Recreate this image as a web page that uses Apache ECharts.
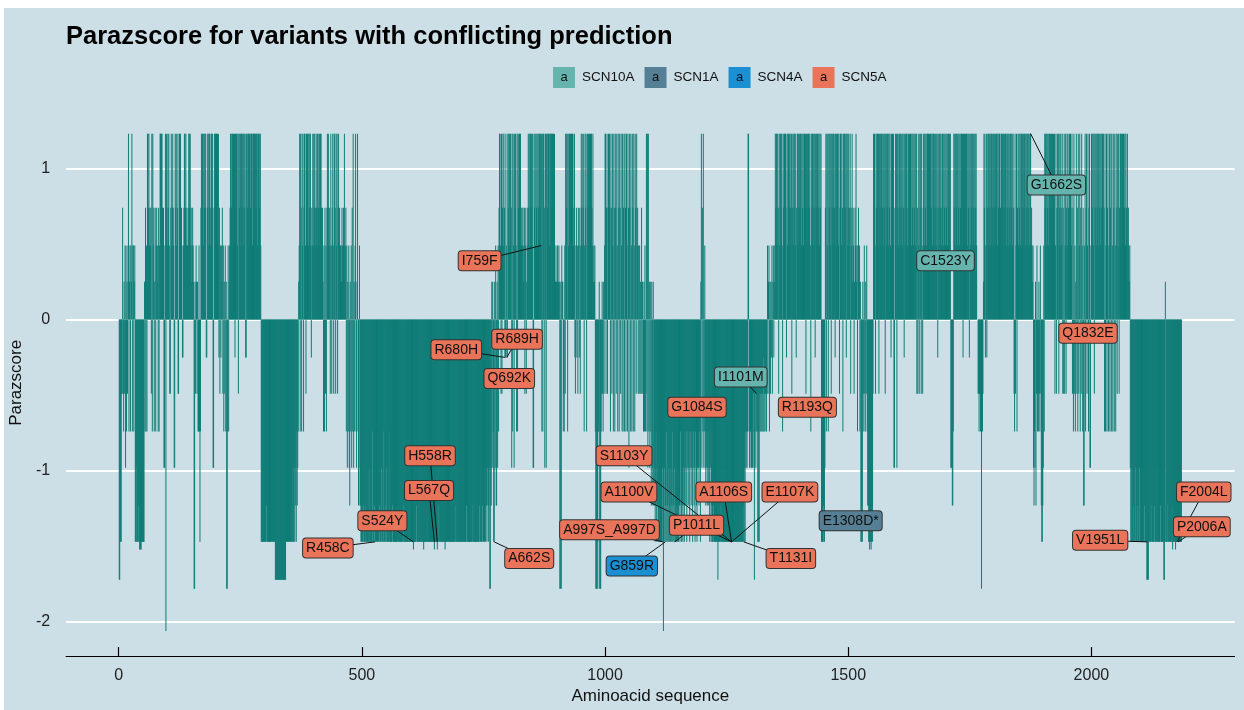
<!DOCTYPE html>
<html><head><meta charset="utf-8">
<script src="https://cdn.jsdelivr.net/npm/echarts@6/dist/echarts.min.js"></script>
<style>
html,body{margin:0;padding:0;background:#fff;}
#bg{position:absolute;left:4px;top:8px;right:0;bottom:0;background:#cddfe6;}
#chart{position:absolute;left:0;top:0;width:1244px;height:710px;}
</style></head>
<body><div id="bg"></div><div id="chart"></div>
<script>
// Parazscore per aminoacid position (positions 1..2185) in chunks of 100
const seg01=[-1.72,-1.72,-1.47,-1.47,-1.47,-0.49,-0.49,0.74,-0.49,-0.74,
0.25,-0.49,0.49,-0.98,0.49,-0.74,0.25,-0.49,0.49,1.23,
-0.74,0.25,0.49,-0.74,0.49,0.25,1.23,-0.74,0.49,0.49,
-0.74,0.25,0.49,-1.47,-1.47,-0.98,-1.47,-1.47,-1.47,-1.47,
-1.23,-1.47,-1.52,-1.52,-1.52,-1.52,-1.47,-1.47,-1.47,-1.47,
-1.47,-1.47,0.25,-0.74,0.74,-0.74,0.49,-0.74,1.23,1.23,
0.74,1.23,0.49,0.74,0.49,0.74,-0.49,1.23,-0.74,1.23,
0.49,0.74,-0.74,0.25,0.74,-0.74,0.49,0.74,0.25,0.49,
-0.74,0.74,-0.74,0.49,1.23,1.23,0.74,1.23,1.23,0.74,
0.49,0.74,-0.98,-0.98,0.49,1.23,-2.06,1.23,0.74,0.49];
const seg02=[1.23,0.74,1.23,0.49,-0.49,-0.49,0.74,1.23,0.49,0.74,
1.23,0.74,0.49,-0.98,-0.98,1.23,0.74,1.23,0.49,1.23,
0.74,-0.49,-0.49,1.23,1.23,0.74,1.23,0.49,0.74,0.49,
-0.25,-0.25,0.49,0.74,1.23,1.23,0.74,1.23,0.49,0.74,
0.49,0.49,0.74,1.23,1.23,0.74,1.23,0.49,0.74,0.25,
0.49,0.74,0.49,0.25,-1.78,-1.78,0.25,-0.49,0.49,0.25,
-0.49,0.25,-0.74,-0.74,0.49,-0.74,-1.47,-0.74,0.74,1.23,
0.74,1.23,1.23,0.49,1.23,0.74,1.23,1.23,0.74,-0.25,
-0.25,1.23,0.74,1.23,0.49,1.23,1.23,0.74,0.49,1.23,
1.23,0.74,1.23,-0.98,-0.98,0.74,1.23,0.49,1.23,1.23];
const seg03=[1.23,0.74,1.23,0.49,1.23,-0.25,0.74,-0.49,0.49,-0.25,
0.49,0.25,0.74,-0.49,0.49,-0.74,0.25,-0.49,0.49,-0.74,
0.25,-1.78,-1.78,-0.74,0.49,-0.74,0.25,0.49,0.74,1.23,
1.23,0.74,1.23,1.23,0.49,1.23,0.74,1.23,-0.25,1.23,
0.74,1.23,1.23,0.49,1.23,-0.49,1.23,0.74,1.23,1.23,
0.49,1.23,1.23,0.74,1.23,1.23,0.49,1.23,0.74,1.23,
-0.25,-0.25,1.23,1.23,0.74,1.23,1.23,0.49,1.23,1.23,
0.74,1.23,1.23,1.23,0.49,1.23,1.23,0.74,1.23,1.23,
1.23,0.74,1.23,1.23,0.49,1.23,1.23,1.23,0.74,1.23,
1.23,0.49,-1.47,-1.47,-1.47,-1.47,-1.47,-1.47,-1.47,-1.47];
const seg04=[-1.47,-1.47,-1.47,-1.23,-1.47,-1.47,-1.47,-1.47,-1.47,-1.47,
-1.47,-1.47,-1.47,-1.47,-1.23,-1.47,-1.47,-1.47,-1.47,-1.47,
-1.47,-1.72,-1.72,-1.72,-1.72,-1.72,-1.72,-1.72,-1.72,-1.72,
-1.72,-1.72,-1.72,-1.72,-1.72,-1.72,-1.72,-1.72,-1.72,-1.72,
-1.72,-1.72,-1.72,-1.47,-1.47,-1.47,-1.47,-1.23,-1.47,-1.47,
-1.47,-1.47,-1.47,-1.23,-1.47,-1.47,-1.47,-0.98,-1.47,-1.47,
-0.98,-1.47,-1.23,-0.98,-1.47,-0.74,-1.23,-0.98,-0.74,0.25,
0.49,1.23,-0.74,1.23,0.74,-0.74,1.23,0.49,1.23,-0.74,
0.74,1.23,1.23,0.49,-0.49,1.23,0.74,1.23,1.23,0.49,
1.23,0.74,1.23,1.23,0.49,-0.25,0.74,0.49,1.23,0.49];
const seg05=[1.23,0.74,1.23,0.49,0.74,1.23,0.74,0.49,1.23,1.23,
0.74,0.49,1.23,0.74,1.23,1.23,0.74,0.49,0.74,0.25,
-0.74,0.49,-0.74,0.74,-0.49,0.49,-0.74,0.74,1.23,0.74,
1.23,0.49,0.74,0.49,-0.49,1.23,0.49,-0.49,0.74,1.23,
0.49,-0.49,1.23,1.23,0.74,-0.49,1.23,0.49,1.23,-0.49,
0.74,1.23,0.49,0.74,0.25,0.49,0.49,0.25,0.74,0.49,
0.25,0.74,0.49,1.23,0.25,0.49,0.74,-0.74,0.49,-0.98,
0.25,-0.74,0.49,-0.98,-1.23,0.25,-0.74,0.49,-0.98,0.74,
-0.74,1.23,-0.98,0.25,-0.74,0.49,1.23,-0.74,-0.98,0.25,
1.23,-0.74,-1.23,-0.98,0.49,-1.23,-1.23,-1.47,-1.47,-1.47];
const seg06=[-1.47,-1.47,-1.23,-1.47,-1.47,-1.47,-1.47,-1.23,-1.47,-1.47,
-1.47,-1.47,-1.47,-1.47,-0.98,-1.47,-1.47,-1.47,-1.47,-1.47,
-1.47,-0.74,-1.47,-1.47,-1.47,-1.23,-1.47,-1.47,-0.98,-1.47,
-1.47,-1.47,-0.74,-1.47,-1.47,-1.23,-1.47,-1.47,-1.47,-0.98,
-1.47,-1.47,-1.47,-0.74,-1.47,-1.47,-1.47,-1.23,-1.47,-1.47,
-0.98,-1.47,-1.47,-1.47,-1.47,-0.74,-1.47,-1.47,-1.47,-1.47,
-1.47,-1.47,-1.23,-1.47,-1.47,-1.47,-1.47,-1.47,-1.47,-1.47,
-1.47,-1.47,-1.47,-1.23,-1.47,-1.47,-1.47,-1.47,-1.47,-1.47,
-1.47,-1.47,-1.47,-1.47,-1.47,-1.23,-1.47,-1.47,-1.47,-1.47,
-1.47,-1.47,-1.47,-1.47,-1.47,-1.47,-1.23,-1.47,-1.47,-1.47];
const seg07=[-1.47,-1.47,-1.47,-1.47,-1.47,-1.52,-1.47,-1.47,-1.47,-1.47,
-1.47,-1.23,-1.47,-1.47,-1.47,-1.47,-1.47,-1.47,-1.47,-1.47,
-1.47,-1.47,-1.47,-1.47,-1.47,-1.47,-1.52,-1.47,-1.47,-1.47,
-1.47,-1.47,-1.47,-1.23,-1.47,-1.47,-1.47,-1.47,-1.47,-1.47,
-1.47,-1.47,-1.47,-1.47,-1.47,-1.47,-1.47,-1.47,-1.52,-1.47,
-1.47,-1.47,-1.47,-1.47,-1.52,-1.47,-1.47,-1.23,-1.47,-1.47,
-1.47,-1.47,-1.47,-1.47,-1.47,-1.47,-1.47,-1.47,-1.47,-1.47,
-1.52,-1.47,-1.47,-1.47,-1.47,-1.47,-1.23,-1.47,-1.47,-1.47,
-1.47,-1.47,-1.47,-1.47,-1.47,-1.47,-1.47,-1.47,-1.47,-1.47,
-1.47,-1.47,-1.23,-1.47,-1.47,-1.47,-1.47,-1.47,-1.47,-1.47];
const seg08=[-1.47,-1.47,-1.47,-1.47,-1.47,-1.47,-1.47,-1.47,-1.47,-1.47,
-1.47,-1.47,-1.47,-1.47,-1.23,-1.47,-1.47,-1.47,-1.47,-1.47,
-1.47,-1.47,-1.47,-1.47,-1.47,-1.47,-1.47,-1.23,-1.47,-1.47,
-1.47,-1.47,-1.47,-1.47,-1.47,-1.47,-1.47,-1.47,-1.47,-1.47,
-1.47,-1.23,-1.47,-1.47,-0.98,-1.47,-1.47,-1.23,-1.47,-1.47,
-0.98,-1.47,-1.23,-1.47,-0.98,-1.23,-1.47,-0.98,-1.23,-1.47,
-1.23,-0.98,-1.78,-1.78,-0.98,-1.23,0.25,-0.98,0.25,-0.74,
-1.47,-1.47,0.25,-0.98,0.49,-1.23,-1.23,0.25,-0.98,0.49,
-0.74,0.74,1.23,1.23,0.49,-0.49,1.23,-0.49,0.74,1.23,
0.49,1.23,0.74,-0.25,-0.25,1.23,0.49,-0.25,-0.25,1.23];
const seg09=[0.74,1.23,1.23,0.49,1.23,1.23,0.74,-0.98,1.23,-0.74,
1.23,0.49,-0.98,1.23,0.74,1.23,0.49,-0.74,1.23,-0.74,
1.23,0.74,1.23,1.23,0.49,1.23,0.74,0.49,0.74,0.49,
0.74,0.25,0.49,0.74,-0.49,0.49,0.74,-0.49,0.25,0.49,
0.74,1.23,0.74,1.23,0.49,1.23,1.23,0.74,1.23,0.49,
1.23,-0.98,-0.98,1.23,0.74,1.23,0.49,1.23,0.74,1.23,
0.49,1.23,0.74,1.23,1.23,0.74,1.23,0.49,1.23,-0.74,
1.23,-0.74,1.23,1.23,0.74,-0.98,1.23,1.23,-0.98,1.23,
1.23,0.74,1.23,1.23,1.23,0.49,1.23,1.23,0.74,1.23,
1.23,1.23,0.74,1.23,0.49,1.23,0.25,0.25,0.49,0.25];
const seg10=[0.25,0.49,0.25,0.25,0.49,0.25,-1.78,-1.78,0.25,-1.78,
0.49,0.25,0.25,-0.74,-0.49,-0.74,0.49,-0.49,1.23,1.23,
0.74,1.23,-0.74,1.23,0.49,1.23,1.23,0.74,1.23,0.49,
1.23,0.74,1.23,1.23,0.49,0.74,1.23,-0.25,-0.49,0.49,
0.74,-0.25,0.49,-0.49,0.74,0.49,-0.25,0.74,-0.49,0.49,
1.23,0.74,1.23,0.49,0.74,1.23,-0.74,0.49,1.23,0.74,
1.23,-0.74,0.49,1.23,0.74,1.23,0.49,1.23,0.74,1.23,
0.49,1.23,0.74,0.49,1.23,0.25,0.49,0.25,0.49,-0.74,
-1.78,-1.78,-1.78,-1.47,-1.78,-0.74,-0.74,0.25,-1.78,-1.78,
-1.78,-0.74,-0.49,0.25,-0.49,-0.74,0.25,-0.49,0.49,1.23];
const seg11=[1.23,-0.49,0.74,1.23,-0.49,0.74,1.23,0.49,1.23,0.74,
-0.74,1.23,0.74,-0.49,1.23,0.49,-0.74,1.23,0.74,-0.74,
1.23,0.74,-0.49,1.23,0.49,-0.74,1.23,0.74,-0.74,1.23,
0.74,-0.49,1.23,0.49,-0.74,1.23,-0.74,0.74,1.23,-0.74,
1.23,0.74,-0.74,1.23,0.49,-0.74,1.23,0.74,-0.98,1.23,
0.74,-0.74,1.23,0.49,-0.74,1.23,0.74,-0.74,1.23,0.49,
-0.74,1.23,0.74,-0.49,1.23,0.49,0.74,-0.49,0.49,-0.49,
0.49,-0.49,0.25,-0.49,0.74,-0.49,0.25,-0.49,-0.74,0.25,
-0.74,0.49,-0.74,-0.49,1.23,-0.74,1.23,-0.98,1.23,-0.74,
0.25,-0.98,0.25,-0.74,-1.23,0.25,-0.98,-1.23,0.25,-1.23];
const seg12=[-1.23,-0.98,-1.47,-1.23,-0.74,-1.47,-0.98,-1.23,-1.47,-1.47,
-1.23,-1.47,-0.98,-1.47,-1.23,-1.47,-1.47,-0.98,-1.47,-2.06,
-1.47,-0.98,-1.47,-1.23,-1.47,-0.74,-1.47,-1.23,-1.47,-0.98,
-1.47,-1.23,-1.47,-1.47,-0.98,-1.47,-1.23,-1.47,-0.74,-1.47,
-1.23,-1.47,-0.98,-1.47,-1.47,-1.23,-1.47,-0.98,-1.47,-1.23,
-1.47,-0.98,-1.23,-1.47,-0.74,-1.23,-1.47,-0.98,-1.23,-1.47,
-0.98,-1.23,-1.47,-0.74,-0.98,-1.23,-0.74,-1.47,-0.98,-0.74,
-1.23,-0.98,-0.74,-1.47,-0.98,-0.74,-1.23,-0.98,-0.74,-1.47,
-0.98,-0.74,-1.23,-0.98,-1.47,-0.74,-0.98,-1.23,-1.47,-0.98,
-0.74,-0.98,-1.23,-0.74,-0.98,-1.47,0.25,1.23,-0.98,0.74];
const seg13=[-0.74,1.23,-0.98,-0.74,0.49,-0.98,-1.23,-0.74,-0.98,-1.23,
-0.98,-0.74,-1.23,-0.98,-1.47,-0.74,-0.98,-1.47,-1.23,-1.47,
-1.47,-1.47,-1.23,-1.47,-1.47,-1.47,-1.47,-1.47,-1.47,-1.47,
-1.47,-1.72,-1.47,-1.47,-1.47,-1.47,-1.47,-1.23,-1.47,-1.47,
-1.47,-1.47,-1.47,-1.47,-1.47,-1.47,-1.47,-1.47,-1.47,-1.47,
-1.47,-1.47,-1.47,-1.47,-1.47,-1.47,-1.47,-1.47,-1.47,-1.47,
-1.47,-1.47,-1.47,-1.47,-1.23,-1.47,-1.47,-1.47,-1.47,-1.47,
-1.47,-1.47,-1.47,-1.47,-1.47,-1.47,-1.47,-1.47,-1.47,-1.47,
-1.47,-1.47,-1.47,-1.23,-1.47,-1.47,-0.98,-1.47,-0.74,-0.98,
-0.74,-0.98,-0.74,1.23,1.23,-0.74,-0.98,-0.49,-0.74,-0.98];
const seg14=[-0.98,-0.74,-0.98,-0.74,-0.49,-0.98,-1.72,-0.74,-0.49,-0.98,
-0.74,-0.49,-0.74,-1.47,-1.47,-0.74,-1.47,-0.49,-0.74,-0.49,
-0.74,-0.49,-0.74,-0.49,-0.74,-0.25,-0.74,-0.49,-0.74,-0.49,
-0.25,-0.74,-0.49,0.49,-0.49,0.25,0.49,-0.74,0.25,-0.49,
0.25,-0.25,0.49,-0.49,0.25,0.49,-0.25,0.25,0.49,1.23,
0.74,1.23,1.23,0.49,1.23,0.74,-0.49,1.23,0.49,1.23,
1.23,0.74,1.23,0.49,-0.74,1.23,0.74,1.23,1.23,0.49,
1.23,0.74,-0.25,1.23,0.49,1.23,1.23,0.74,1.23,0.49,
0.74,1.23,1.23,-0.49,0.74,1.23,0.49,1.23,0.74,1.23,
1.23,0.49,-0.25,0.74,1.23,1.23,0.49,1.23,0.74,1.23];
const seg15=[0.74,1.23,1.23,0.49,1.23,0.74,1.23,0.49,1.23,1.23,
0.74,1.23,-0.49,1.23,0.74,1.23,0.49,1.23,1.23,0.74,
1.23,0.49,-0.74,1.23,0.74,1.23,1.23,0.49,1.23,0.74,
1.23,-0.25,1.23,0.74,1.23,0.49,1.23,1.23,0.74,1.23,
0.49,1.23,0.74,1.23,-1.47,-1.47,-1.47,-1.47,-1.23,-1.47,
-1.47,-0.98,0.74,1.23,-0.74,1.23,0.49,1.23,-0.74,1.23,
0.74,1.23,0.49,1.23,-0.49,1.23,0.74,1.23,0.49,1.23,
1.23,0.74,-0.25,1.23,0.49,1.23,0.74,1.23,1.23,0.49,
1.23,-0.49,0.74,1.23,1.23,0.49,1.23,0.74,-0.74,1.23,
0.49,1.23,1.23,0.74,1.23,-0.25,1.23,0.49,1.23,0.74];
const seg16=[1.23,0.49,0.74,1.23,-0.49,0.74,0.49,1.23,0.25,0.74,
0.49,-0.49,0.25,0.74,0.49,1.23,0.25,0.49,-0.74,0.49,
0.74,0.25,0.49,-0.74,0.25,-1.47,-1.47,-1.23,-1.47,0.25,
-0.49,-0.74,0.49,-0.49,-0.74,0.25,-0.49,0.49,-0.74,-1.23,
-1.23,-1.47,-1.47,-1.52,-1.47,-1.47,-1.52,-1.47,-1.23,-1.47,
-0.49,1.23,0.74,1.23,0.49,-0.49,1.23,0.74,1.23,1.23,
0.49,1.23,-0.49,1.23,0.74,1.23,0.49,1.23,1.23,0.74,
1.23,0.49,1.23,0.74,1.23,-0.49,1.23,0.49,1.23,0.74,
1.23,1.23,0.49,1.23,0.74,1.23,0.49,-0.25,1.23,0.74,
1.23,0.49,1.23,-0.98,-0.98,0.74,1.23,0.49,1.23,-0.98];
const seg17=[1.23,0.74,0.49,1.23,1.23,0.74,1.23,0.49,1.23,0.74,
1.23,0.49,1.23,0.74,-0.25,1.23,0.49,1.23,0.74,1.23,
1.23,0.49,0.74,1.23,0.49,1.23,0.74,1.23,1.23,0.49,
1.23,0.74,1.23,0.49,1.23,0.74,1.23,0.49,1.23,1.23,
-0.49,0.74,-0.49,1.23,0.49,-0.49,1.23,0.74,1.23,-0.49,
1.23,0.49,-0.49,0.74,1.23,1.23,0.49,1.23,0.74,1.23,
0.49,1.23,1.23,0.74,1.23,0.49,1.23,0.74,1.23,1.23,
0.74,1.23,0.49,1.23,1.23,0.74,1.23,0.49,1.23,0.74,
1.23,0.49,1.23,-0.25,0.74,1.23,0.49,1.23,1.23,0.74,
1.23,0.49,0.74,1.23,1.23,0.49,1.23,0.74,1.23,0.49];
const seg18=[1.23,0.74,1.23,0.49,1.23,1.23,0.74,1.23,0.49,1.23,
-0.98,-0.98,-0.98,-1.23,-1.23,-0.74,1.23,0.74,1.23,0.49,
1.23,0.74,1.23,1.23,0.49,1.23,0.74,1.23,0.49,1.23,
0.74,1.23,1.23,0.49,1.23,-0.25,1.23,0.74,1.23,0.49,
1.23,0.74,1.23,1.23,0.49,1.23,0.74,1.23,-0.25,1.23,
0.49,1.23,0.74,1.23,1.23,0.49,1.23,0.74,1.23,0.49,
1.23,0.74,1.23,0.49,0,0,-0.49,-0.49,-0.74,-0.49,
-0.49,-0.74,-0.49,-1.78,-0.49,-0.74,-0.49,0.25,1.23,0.74,
1.23,-0.25,0.49,1.23,-0.25,0.74,1.23,1.23,0.49,1.23,
0.74,1.23,0.49,1.23,1.23,0.74,1.23,0.49,1.23,0.74];
const seg19=[1.23,0.49,1.23,0.74,1.23,1.23,0.49,1.23,0.74,1.23,
1.23,0.49,0.74,1.23,1.23,0.49,1.23,0.74,1.23,0.49,
1.23,0.74,1.23,1.23,0.49,1.23,0.74,1.23,1.23,0.49,
0.74,1.23,0.49,1.23,1.23,0.74,1.23,0.49,1.23,0.74,
-0.49,-0.74,1.23,-0.49,0.49,1.23,-0.74,0.74,1.23,0.49,
1.23,0.74,1.23,0.49,1.23,1.23,0.74,1.23,0.49,1.23,
0.74,1.23,1.23,0.49,1.23,0.74,1.23,0.49,1.23,1.23,
0.74,1.23,0.49,1.23,1.23,0.49,0.74,0.49,0.25,0.49,
-0.98,-1.23,-0.74,-0.98,0.25,-1.23,-0.49,0.49,-0.74,-0.49,
-0.74,0.25,-0.49,-0.74,0.49,-0.49,-1.23,-1.47,-1.47,-1.23];
const seg20=[-0.98,0.49,-0.74,1.23,0.74,1.23,1.23,0.49,1.23,0.74,
1.23,0.49,1.23,1.23,0.74,1.23,0.49,1.23,0.74,1.23,
0.49,1.23,0.74,1.23,-0.49,0.49,1.23,-0.49,0.74,1.23,
0.49,1.23,-0.49,0.74,1.23,0.49,1.23,0.74,0.49,1.23,
-0.49,0.74,-0.49,1.23,-0.49,0.49,1.23,-0.49,0.74,1.23,
0.49,1.23,0.74,0.49,1.23,0.25,1.23,0.74,0.49,1.23,
-0.49,0.74,-0.74,1.23,-0.49,0.49,-0.74,0.25,1.23,-0.49,
0.74,-0.74,1.23,-0.49,0.49,1.23,-0.74,0.74,-0.49,1.23,
0.49,-0.74,0.74,-1.23,-1.23,0.49,1.23,-0.74,0.74,1.23,
-0.49,0.49,1.23,-0.74,0.74,1.23,-0.98,-0.98,0.49,1.23];
const seg21=[1.23,0.74,1.23,0.49,1.23,-0.49,1.23,0.74,1.23,0.49,
1.23,0.74,1.23,1.23,0.49,1.23,0.74,1.23,0.49,1.23,
0.74,1.23,1.23,0.49,1.23,0.74,-0.74,1.23,-0.74,0.49,
1.23,-0.74,0.74,1.23,-0.74,0.49,1.23,-0.74,0.74,1.23,
-0.74,1.23,0.49,-0.74,1.23,0.74,-0.74,1.23,0.49,-0.74,
1.23,0.74,-0.49,1.23,0.49,1.23,-0.49,0.74,1.23,1.23,
0.49,1.23,0.74,1.23,0.49,1.23,1.23,0.74,1.23,0.49,
1.23,0.74,0.49,1.23,0.25,0.74,0.49,0.25,0.49,-0.98,
-1.47,-1.47,-0.98,-1.47,-1.47,-1.47,-1.23,-1.47,-1.47,-1.47,
-0.98,-1.47,-1.47,-1.47,-1.23,-1.47,-1.47,-1.47,-0.98,-1.47];
const seg22=[-1.47,-1.23,-1.47,-1.47,-1.47,-0.98,-1.47,-1.47,-1.23,-1.47,
-1.47,-1.47,-1.47,-1.72,-1.72,-1.72,-1.72,-1.47,-1.47,-1.47,
-1.47,-1.47,-1.23,-1.47,-1.47,-1.47,-1.47,-1.47,-1.47,-1.23,
-1.47,-1.47,-1.47,-1.47,-0.98,-1.47,-1.47,-1.47,-1.47,-1.47,
-1.47,-1.23,-1.47,-1.47,-1.47,-1.47,-1.47,-1.47,-1.72,-1.72,
-1.47,0.25,-1.47,-1.47,-1.47,-1.47,-1.23,-1.47,-1.47,-1.47,
-1.47,-1.47,-1.47,-1.47,-1.47,-1.23,-1.52,-1.47,-1.47,-1.47,
-1.47,-1.47,-1.52,-1.47,-1.47,-1.47,-1.47,-1.47,-1.47,-1.47,
-1.47,-1.47,-1.47,-1.47,-1.47];

// Tick labels
const xTicks=[0,500,1000,1500,2000];
const yTicks=[-2,-1,0,1];

// Gene legend
const genes=['SCN10A','SCN1A','SCN4A','SCN5A'];
const geneColors=['#66b4ae','#557f94','#1a8fd1','#ea7459'];

// Variant labels: name, gene, anchored point (position, score), label position (position, score)
const varNames=['I759F','R680H','R689H','Q692K','H558R','L567Q','S524Y','R458C','A662S','S1103Y','A1100V','A1106S','E1107K','T1131I','P1011L','A997S_A997D','G859R','G1084S','I1101M','R1193Q','E1308D*','C1523Y','G1662S','Q1832E','F2004L','P2006A','V1951L'];
const varGenes=['SCN5A','SCN5A','SCN5A','SCN5A','SCN5A','SCN5A','SCN5A','SCN5A','SCN5A','SCN5A','SCN5A','SCN5A','SCN5A','SCN5A','SCN5A','SCN5A','SCN4A','SCN5A','SCN10A','SCN5A','SCN1A','SCN10A','SCN10A','SCN5A','SCN5A','SCN5A','SCN5A'];
const anchorPos=[869,794,798,null,655,649,606,527,772,1260,1260,1260,1260,1285,1143,1119,1124,null,1312,null,null,null,1875,null,2176,2178,2115];
const anchorScore=[0.49,-0.25,-0.25,null,-1.47,-1.47,-1.47,-1.47,-1.47,-1.47,-1.47,-1.47,-1.47,-1.47,-1.47,-1.47,-1.47,null,-0.49,null,null,null,1.23,null,-1.47,-1.47,-1.47];
const labelPos=[742,694,819,803,640,638,542,430,844,1039,1049,1244,1380,1382,1188,1009,1055,1189,1279,1416,1505,1700,1928,1993,2231,2227,2018];
const labelScore=[0.39,-0.2,-0.13,-0.39,-0.9,-1.13,-1.33,-1.51,-1.58,-0.9,-1.14,-1.14,-1.14,-1.58,-1.36,-1.39,-1.63,-0.58,-0.38,-0.58,-1.33,0.39,0.89,-0.09,-1.14,-1.37,-1.46];

const scores=[].concat(seg01,seg02,seg03,seg04,seg05,seg06,seg07,seg08,seg09,seg10,seg11,seg12,seg13,seg14,seg15,seg16,seg17,seg18,seg19,seg20,seg21,seg22);
const barData=scores.map((v,i)=>[i+1,v]);

const FONT='"Liberation Sans", Arial, Helvetica, sans-serif';
const segData=[];
varNames.forEach((n,i)=>{ if(anchorPos[i]!==null){ segData.push({coords:[[anchorPos[i],anchorScore[i]],[labelPos[i],labelScore[i]]]}); }});

const labelSeries=genes.map((g,gi)=>({
  name:g, type:'scatter', z:10, silent:true,
  symbol:'rect', symbolSize:1, itemStyle:{color:'transparent'},
  data:varNames.map((n,i)=>({name:n,value:[labelPos[i],labelScore[i]],gene:varGenes[i]})).filter(d=>d.gene===g).map(d=>({name:d.name,value:d.value})),
  label:{show:true,position:'inside',formatter:'{b}',fontFamily:FONT,fontSize:14,color:'#111',opacity:1,
    backgroundColor:geneColors[gi],borderColor:'#333',borderWidth:1,borderRadius:3,padding:[2,3,2,3],lineHeight:15}
}));

const rich={t:{fontFamily:FONT,fontSize:13.5,color:'#111',padding:[0,0,0,7]}};
genes.forEach((g,gi)=>{ rich['k'+gi]={backgroundColor:geneColors[gi],width:22,height:21,lineHeight:21,align:'center',fontFamily:FONT,fontSize:13,color:'#111'}; });

const chart=echarts.init(document.getElementById('chart'),null,{renderer:'canvas'});
chart.setOption({
  animation:false,
  backgroundColor:'transparent',
  title:{text:'Parazscore for variants with conflicting prediction',left:61,top:19,
    textStyle:{fontFamily:FONT,fontSize:25.5,fontWeight:'bold',color:'#000'}},
  legend:{left:543,top:62,icon:'none',itemWidth:0,itemGap:5,selectedMode:false,data:genes,
    formatter:n=>'{k'+genes.indexOf(n)+'|a}{t|'+n+'}',textStyle:{rich:rich}},
  grid:{left:63.5,right:9.5,top:109.5,bottom:51.3},
  xAxis:{type:'value',min:-108.2,max:2294.2,
    name:'Aminoacid sequence',nameLocation:'middle',nameGap:24,
    nameTextStyle:{fontFamily:FONT,fontSize:17,color:'#111'},
    axisLine:{show:true,onZero:false,lineStyle:{color:'#000',width:1.2}},
    axisTick:{show:true,inside:true,length:9,customValues:xTicks,lineStyle:{color:'#000',width:1.2}},
    axisLabel:{customValues:xTicks,formatter:v=>String(v),fontFamily:FONT,fontSize:16,color:'#222',margin:11},
    splitLine:{show:false}},
  yAxis:{type:'value',min:-2.2256,max:1.3898,minInterval:1,maxInterval:1,
    name:'Parazscore',nameLocation:'middle',nameGap:32,nameRotate:90,
    nameTextStyle:{fontFamily:FONT,fontSize:17,color:'#111'},
    axisLine:{show:false},axisTick:{show:false},
    axisLabel:{customValues:yTicks,formatter:v=>String(v),fontFamily:FONT,fontSize:16,color:'#222',margin:16},
    splitLine:{show:true,showMinLine:false,showMaxLine:false,lineStyle:{color:'#ffffff',width:2.2}}},
  series:[
    {name:'Parazscore',type:'bar',data:barData,barWidth:0.45,silent:true,z:2,
      itemStyle:{color:'#0f7c76'}},
    {name:'segments',type:'lines',coordinateSystem:'cartesian2d',silent:true,z:5,
      data:segData,lineStyle:{color:'#111',width:1,opacity:1,curveness:0}},
  ].concat(labelSeries)
});
</script></body></html>
